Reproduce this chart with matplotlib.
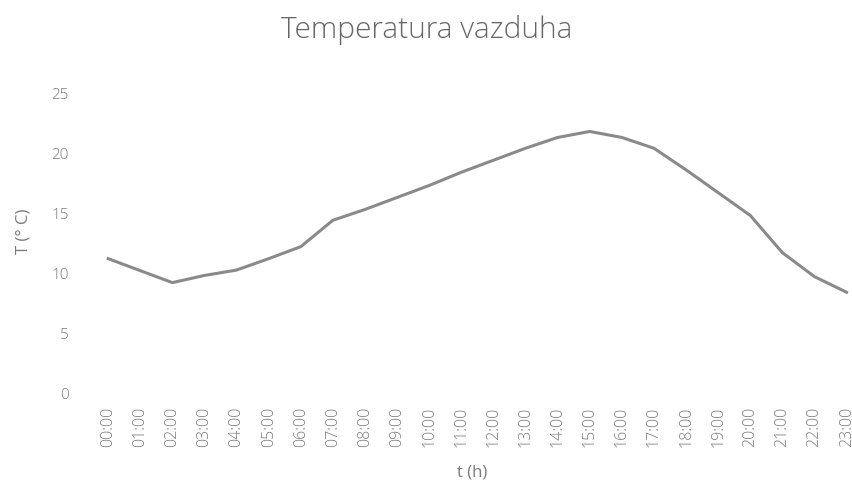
import matplotlib
matplotlib.use("Agg")
import matplotlib.pyplot as plt

hours = ["%02d:00" % h for h in range(24)]
temps = [11.2, 10.2, 9.2, 9.8, 10.25, 11.2, 12.2, 14.4, 15.3, 16.3, 17.3, 18.4,
         19.4, 20.4, 21.3, 21.8, 21.3, 20.4, 18.6, 16.7, 14.8, 11.7, 9.7, 8.4]
yticks = [0, 5, 10, 15, 20, 25]

plt.rcParams['font.family'] = ['Open Sans', 'DejaVu Sans']
txt = '#7a7a7a'

fig = plt.figure(figsize=(8.53, 4.95), dpi=100)
ax = fig.add_axes([0.108, 0.206, 0.892, 0.606])

ax.plot(range(len(hours)), temps, color='#8a8a8a', lw=2.2, solid_joinstyle='round')

ax.set_xlim(-0.5, 23.2)
ax.set_ylim(0, 25)
ax.set_xticks(range(len(hours)))
ax.set_xticklabels(hours, rotation=90, fontsize=11.5, color=txt, fontweight='light')
ax.set_yticks(yticks)
ax.set_yticklabels([str(v) for v in yticks], fontsize=11, color=txt, fontweight='light')
ax.tick_params(axis='both', length=0)
ax.tick_params(axis='x', pad=10)
ax.tick_params(axis='y', pad=17)
for s in ax.spines.values():
    s.set_visible(False)

ax.set_xlabel("t (h)", fontsize=12, color=txt, va='center')
ax.xaxis.set_label_coords(0.5, -0.265)
ax.set_ylabel("T (° C)", fontsize=12, color=txt)
ax.yaxis.set_label_coords(-0.08, 0.54)
fig.text(0.5, 0.94, "Temperatura vazduha", ha='center', va='center',
         fontsize=21.5, color='#666666', fontweight='light')

fig.savefig("out.png", dpi=100)
